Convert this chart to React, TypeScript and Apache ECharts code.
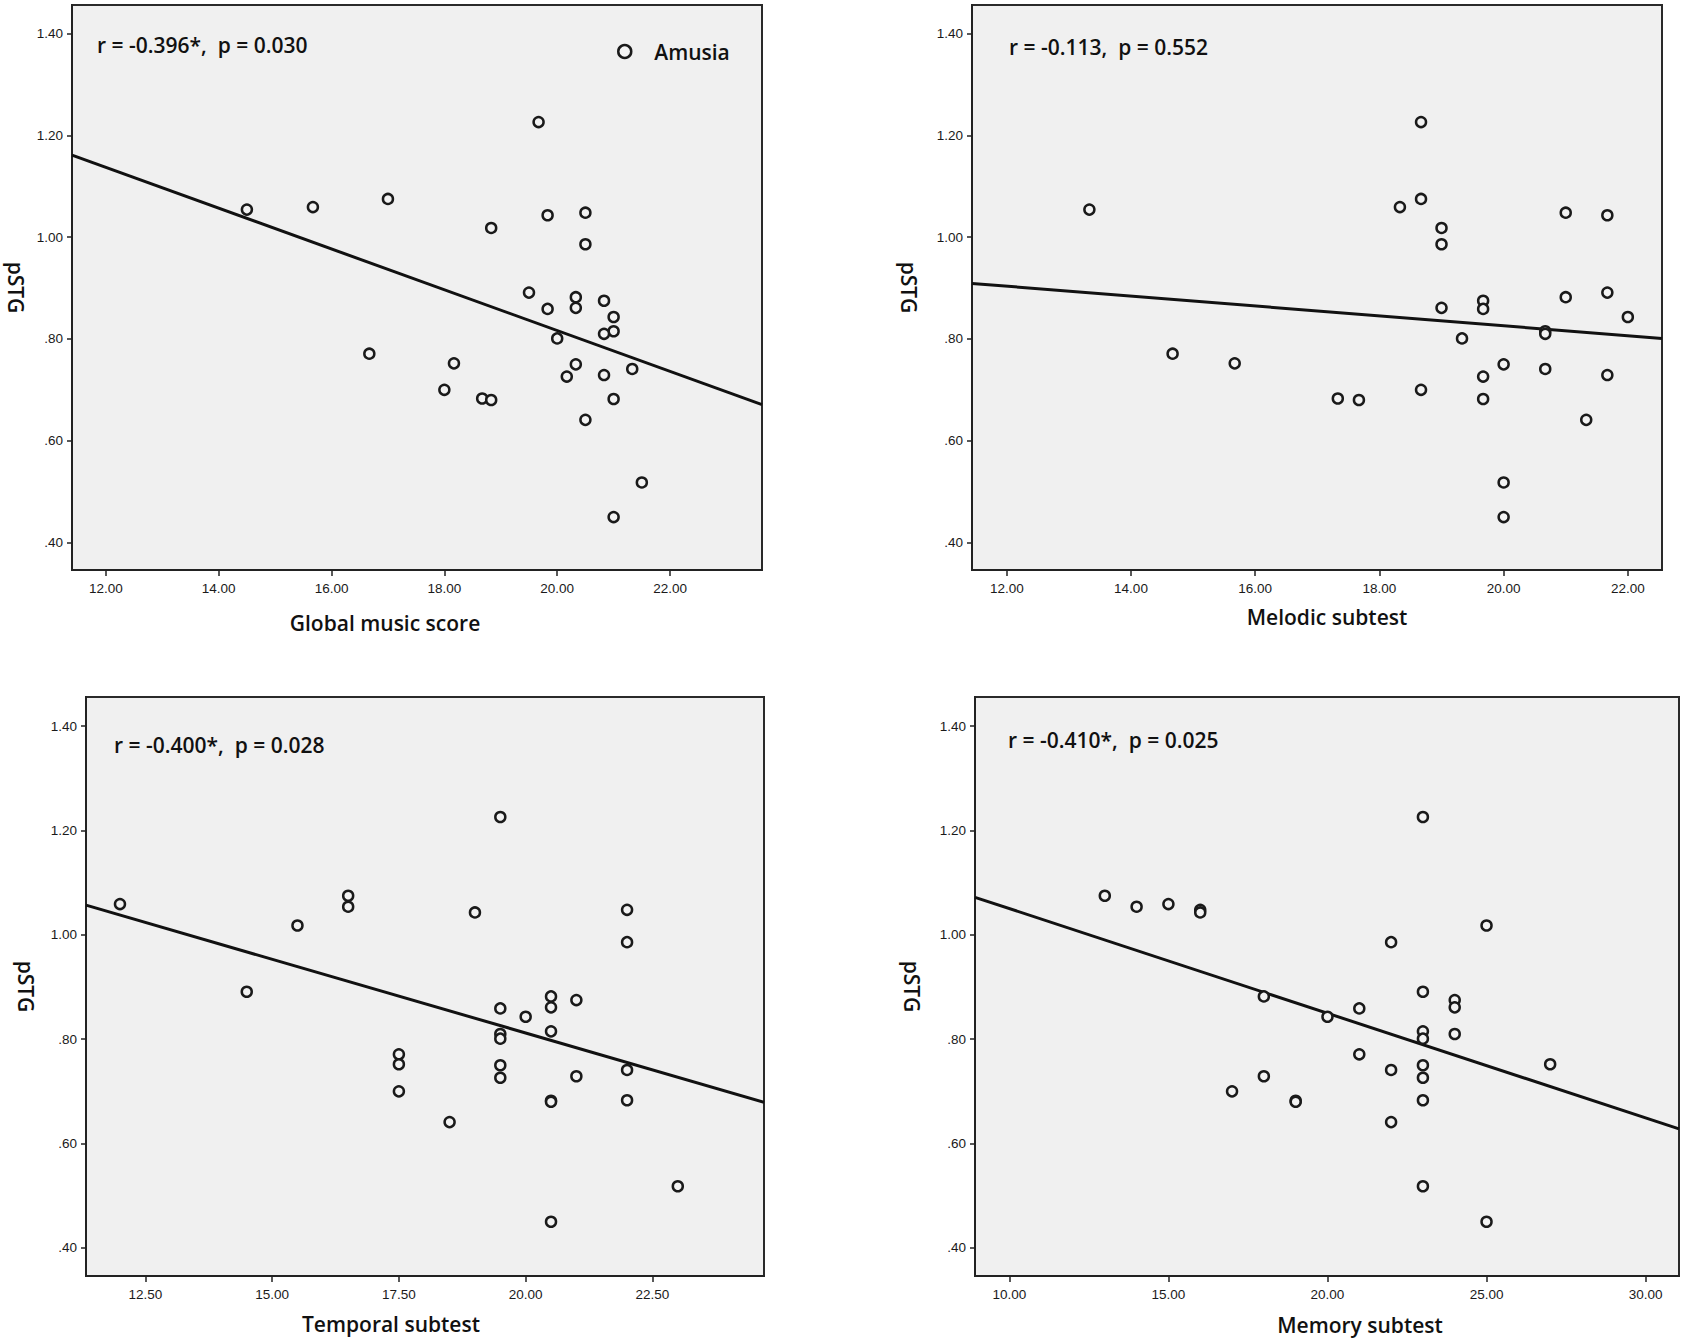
import React, { useEffect, useRef } from "react";
import * as echarts from "echarts";

// pSTG values (shared by all four panels), sorted high to low
const pstg = [1.226, 1.075, 1.059, 1.054, 1.048, 1.043, 1.018, 0.986, 0.891, 0.882, 0.875, 0.861, 0.859, 0.843, 0.815, 0.81, 0.801, 0.771, 0.752, 0.75, 0.741, 0.729, 0.726, 0.7, 0.683, 0.682, 0.68, 0.641, 0.518, 0.45];

// x values for each subject, aligned with pstg
const globalScore = [19.67, 17.0, 15.67, 14.5, 20.5, 19.83, 18.83, 20.5, 19.5, 20.33, 20.83, 20.33, 19.83, 21.0, 21.0, 20.83, 20.0, 16.67, 18.17, 20.33, 21.33, 20.83, 20.17, 18.0, 18.67, 21.0, 18.83, 20.5, 21.5, 21.0];
const melodic = [18.67, 18.67, 18.33, 13.33, 21.0, 21.67, 19.0, 19.0, 21.67, 21.0, 19.67, 19.0, 19.67, 22.0, 20.67, 20.67, 19.33, 14.67, 15.67, 20.0, 20.67, 21.67, 19.67, 18.67, 17.33, 19.67, 17.67, 21.33, 20.0, 20.0];
const temporal = [19.5, 16.5, 12.0, 16.5, 22.0, 19.0, 15.5, 22.0, 14.5, 20.5, 21.0, 20.5, 19.5, 20.0, 20.5, 19.5, 19.5, 17.5, 17.5, 19.5, 22.0, 21.0, 19.5, 17.5, 22.0, 20.5, 20.5, 18.5, 23.0, 20.5];
const memory = [23, 13, 15, 14, 16, 16, 25, 22, 23, 18, 24, 24, 21, 20, 23, 24, 23, 21, 27, 23, 22, 18, 23, 17, 23, 19, 19, 22, 23, 25];

const xNames = ["Global music score", "Melodic subtest", "Temporal subtest", "Memory subtest"];
const yName = "pSTG";
const statLabels = ["r = -0.396*,  p = 0.030", "r = -0.113,  p = 0.552", "r = -0.400*,  p = 0.028", "r = -0.410*,  p = 0.025"];
const xMins = [11.4, 11.44, 11.33, 8.92];
const xMaxs = [23.63, 22.55, 24.7, 31.05];
const xTickValues = [
  [12, 14, 16, 18, 20, 22],
  [12, 14, 16, 18, 20, 22],
  [12.5, 15, 17.5, 20, 22.5],
  [10, 15, 20, 25, 30],
];
const yMin = 0.346;
const yMax = 1.456;
const yTickValues = [0.4, 0.6, 0.8, 1.0, 1.2, 1.4];
// fitted regression line: pSTG at left and right edges of each panel
const fitStart = [1.161, 0.909, 1.057, 1.072];
const fitEnd = [0.671, 0.801, 0.679, 0.628];
const legendName = "Amusia";

const xSeries = [globalScore, melodic, temporal, memory];

// layout (px)
const grids = [
  { left: 72, top: 5, width: 690, height: 565 },
  { left: 972, top: 5, width: 690, height: 565 },
  { left: 86, top: 697, width: 678, height: 579 },
  { left: 975, top: 697, width: 704, height: 579 },
];
const xNameGap = [42, 36, 37, 38];
const xNamePad = [
  [0, 64, 0, 0],
  [0, 0, 0, 20],
  [0, 68, 0, 0],
  [0, 0, 0, 66],
];
const yNameGap = [46, 53, 50, 53];
const statPos = [
  [97, 45],
  [1009, 47],
  [114, 745],
  [1008, 740],
];

const labelFont = "Liberation Sans";
const titleFont = "Open Sans";
const titleWeight = 600;

export default function App() {
  const ref = useRef<HTMLDivElement>(null);
  useEffect(() => {
    if (!ref.current) return;
    const chart = echarts.init(ref.current, undefined, { renderer: "svg" });
    const fmtY = (v: number) => {
      const s = Number(v).toFixed(2);
      return s.startsWith("0") ? s.slice(1) : s;
    };
    const option: any = {
      animation: false,
      backgroundColor: "#ffffff",
      grid: grids.map((g) => ({
        ...g,
        show: true,
        backgroundColor: "#f0f0f0",
        borderColor: "#2a2a2a",
        borderWidth: 2,
        containLabel: false,
        outerBoundsMode: "none",
      })),
      xAxis: grids.map((_, i) => ({
        type: "value",
        gridIndex: i,
        min: xMins[i],
        max: xMaxs[i],
        name: xNames[i],
        nameLocation: "middle",
        nameGap: xNameGap[i],
        nameTextStyle: { fontFamily: titleFont, fontWeight: titleWeight, fontSize: 21, color: "#111", padding: xNamePad[i] },
        axisLine: { show: true, onZero: false, lineStyle: { color: "#222", width: 2 } },
        axisTick: { show: true, length: 6, customValues: xTickValues[i], lineStyle: { color: "#222", width: 1.5 } },
        axisLabel: {
          customValues: xTickValues[i],
          formatter: (v: number) => Number(v).toFixed(2),
          margin: 11,
          fontSize: 13.5,
          color: "#1a1a1a",
          fontFamily: labelFont,
        },
        splitLine: { show: false },
      })),
      yAxis: grids.map((_, i) => ({
        type: "value",
        gridIndex: i,
        min: yMin,
        max: yMax,
        name: yName,
        nameLocation: "middle",
        nameRotate: -90,
        nameGap: yNameGap[i],
        nameTextStyle: { fontFamily: titleFont, fontWeight: titleWeight, fontSize: 21, color: "#111" },
        axisLine: { show: true, onZero: false, lineStyle: { color: "#222", width: 2 } },
        axisTick: { show: true, length: 5, customValues: yTickValues, lineStyle: { color: "#222", width: 1.5 } },
        axisLabel: {
          customValues: yTickValues,
          formatter: fmtY,
          margin: 9,
          fontSize: 13.5,
          color: "#1a1a1a",
          fontFamily: labelFont,
        },
        splitLine: { show: false },
      })),
      legend: {
        data: [{ name: legendName, icon: "circle" }],
        left: 612,
        top: 36,
        itemWidth: 13,
        itemHeight: 13,
        selectedMode: false,
        itemStyle: { color: "#f3f3f3", borderColor: "#1a1a1a", borderWidth: 2.5 },
        textStyle: { fontFamily: titleFont, fontWeight: titleWeight, fontSize: 21, color: "#111", padding: [0, 0, 0, 18] },
      },
      series: grids.flatMap((_, i) => [
        {
          type: "line",
          xAxisIndex: i,
          yAxisIndex: i,
          data: [
            [xMins[i], fitStart[i]],
            [xMaxs[i], fitEnd[i]],
          ],
          symbol: "none",
          silent: true,
          lineStyle: { color: "#111", width: 3 },
          z: 2,
        },
        {
          type: "scatter",
          name: legendName,
          xAxisIndex: i,
          yAxisIndex: i,
          data: xSeries[i].map((x, j) => [x, pstg[j]]),
          symbol: "circle",
          symbolSize: 10,
          itemStyle: { color: "#f3f3f3", borderColor: "#1a1a1a", borderWidth: 2.5, opacity: 1 },
          z: 3,
        },
      ]),
      graphic: statLabels.map((t, i) => ({
        type: "text",
        x: statPos[i][0],
        y: statPos[i][1],
        z: 10,
        style: {
          text: t,
          fontFamily: titleFont,
          fontWeight: titleWeight,
          fontSize: 21,
          fill: "#111",
          verticalAlign: "middle",
          align: "left",
        },
      })),
    };
    chart.setOption(option);
    return () => chart.dispose();
  }, []);
  return (
    <div
      ref={ref}
      style={{ position: "absolute", left: 0, top: 0, width: 1688, height: 1342, background: "#fff" }}
    />
  );
}
